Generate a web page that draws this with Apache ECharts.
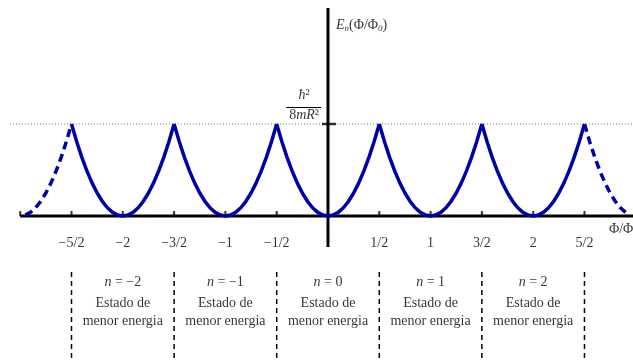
<!DOCTYPE html>
<html>
<head>
<meta charset="utf-8">
<script src="https://cdn.jsdelivr.net/npm/echarts@6/dist/echarts.min.js"></script>
<style>
  html, body { margin: 0; padding: 0; background: #fff; }
  #chart { width: 633px; height: 360px; }
</style>
</head>
<body>
<div id="chart"></div>
<script>
// Energy of one branch E_n around its own centre n (units of hbar^2 / 2mR^2 scaled so peak = 1/4)
const archOffsets = [-0.5, -0.45, -0.4, -0.35, -0.3, -0.25, -0.2, -0.15, -0.1, -0.05, 0,
                      0.05, 0.1, 0.15, 0.2, 0.25, 0.3, 0.35, 0.4, 0.45, 0.5];
const archEnergy  = [0.25, 0.2025, 0.16, 0.1225, 0.09, 0.0625, 0.04, 0.0225, 0.01, 0.0025, 0,
                     0.0025, 0.01, 0.0225, 0.04, 0.0625, 0.09, 0.1225, 0.16, 0.2025, 0.25];

// Branches drawn solid (ground state within each flux window)
const stateNumbers = [-2, -1, 0, 1, 2];
const stateLabels  = ['−2', '−1', '0', '1', '2'];
// Partial branches drawn dashed at both ends
const leftPartial  = { n: -3, from: 0.05, to: 0.5 };
const rightPartial = { n: 3, from: -0.5, to: -0.1 };

const peakEnergy = 0.25;
const axisStart = -3;

const tickValues      = [-3, -2.5, -2, -1.5, -1, -0.5, 0.5, 1, 1.5, 2, 2.5];
const tickLabelValues = [-2.5, -2, -1.5, -1, -0.5, 0.5, 1, 1.5, 2, 2.5];
const tickLabels      = ['−5/2', '−2', '−3/2', '−1', '−1/2', '1/2', '1', '3/2', '2', '5/2'];
const boundaryValues  = [-2.5, -1.5, -0.5, 0.5, 1.5, 2.5];

// Plot window (data units)
const X_MIN = -3.197, X_MAX = 2.973;
const Y_MIN = -0.3913, Y_MAX = 0.587;

// Vertical layout rows, in data units below the flux axis
const ROW_TICK = -0.0734;
const ROW_N = -0.1793;
const ROW_EST = -0.2364;
const ROW_MENOR = -0.2853;
const SEP_TOP = -0.1522;
const YAXIS_BOTTOM = -0.0842, YAXIS_TOP = 0.5652;

const FONT = 'Liberation Serif';
const TEXT = '#000';
const BLUE = '#0000a8';

function branch(n, from, to) {
  const pts = [];
  archOffsets.forEach((o, i) => {
    if (o >= from - 1e-9 && o <= to + 1e-9) pts.push([n + o, archEnergy[i]]);
  });
  return pts;
}

function textSeries(data, label) {
  return {
    type: 'scatter', symbolSize: 0, silent: true, z: 5,
    data: data,
    label: Object.assign({
      show: true, position: 'inside', color: TEXT,
      fontFamily: FONT, fontSize: 14, textBorderWidth: 0
    }, label)
  };
}

const italic = { fontStyle: 'italic', fontFamily: FONT, fontSize: 14, color: TEXT };

const series = [];

// dotted reference level at the peak energy
series.push({
  type: 'line', symbol: 'none', silent: true, z: 1,
  data: [[-3.1, peakEnergy], [X_MAX, peakEnergy]],
  lineStyle: { color: '#777', width: 1, type: [1, 2] }
});

// flux axis
series.push({
  type: 'line', symbol: 'none', silent: true, z: 2,
  data: [[axisStart, 0], [X_MAX, 0]],
  lineStyle: { color: '#000', width: 3 }
});
// energy axis
series.push({
  type: 'line', symbol: 'none', silent: true, z: 2,
  data: [[0, YAXIS_BOTTOM], [0, YAXIS_TOP]],
  lineStyle: { color: '#000', width: 3 }
});
// flux ticks
series.push({
  type: 'scatter', silent: true, z: 2,
  symbol: 'rect', symbolSize: [2, 5], symbolOffset: [0, -2.5],
  itemStyle: { color: '#000' },
  data: tickValues.map(v => [v, 0])
});
// energy tick at the peak level
series.push({
  type: 'scatter', silent: true, z: 2,
  symbol: 'rect', symbolSize: [14, 2.5], symbolOffset: [1, 0],
  itemStyle: { color: '#000' },
  data: [[0, peakEnergy]]
});

// solid branches
stateNumbers.forEach(n => {
  series.push({
    type: 'line', symbol: 'none', silent: true, z: 3,
    data: branch(n, -0.5, 0.5),
    lineStyle: { color: BLUE, width: 3.5 }
  });
});
// dashed partial branches
[leftPartial, rightPartial].forEach(p => {
  series.push({
    type: 'line', symbol: 'none', silent: true, z: 3,
    data: branch(p.n, p.from, p.to),
    lineStyle: { color: BLUE, width: 3.5, type: [8, 5] }
  });
});

// window boundaries
boundaryValues.forEach(v => {
  series.push({
    type: 'line', symbol: 'none', silent: true, z: 2,
    data: [[v, SEP_TOP], [v, Y_MIN]],
    lineStyle: { color: '#000', width: 1.5, type: [5, 4] }
  });
});

// flux tick labels
series.push(textSeries(
  tickLabelValues.map((v, i) => ({ value: [v, ROW_TICK], name: tickLabels[i] })),
  { formatter: p => p.name }
));

// state labels
series.push(textSeries(
  stateNumbers.map((n, i) => ({ value: [n, ROW_N], name: stateLabels[i] })),
  { formatter: p => '{i|n} = ' + p.name, rich: { i: italic } }
));
series.push(textSeries(
  stateNumbers.map(n => [n, ROW_EST]),
  { formatter: () => 'Estado de' }
));
series.push(textSeries(
  stateNumbers.map(n => [n, ROW_MENOR]),
  { formatter: () => 'menor energia' }
));

// energy axis title
series.push(textSeries(
  [[0.078, 0.519]],
  {
    align: 'left', position: 'right', distance: 0,
    formatter: () => '{i|E}{s|n}(Φ/Φ{s|0})',
    rich: {
      i: italic,
      s: { fontStyle: 'italic', fontFamily: FONT, fontSize: 9, color: TEXT, padding: [8, 0, 0, 0] }
    }
  }
));
// flux axis title
series.push(textSeries(
  [[2.739, -0.0353]],
  { position: 'right', distance: 0, formatter: () => 'Φ/Φ{s|0}',
    rich: { s: { fontFamily: FONT, fontSize: 9, color: TEXT, padding: [8, 0, 0, 0] } } }
));
// peak energy value: hbar^2 / 8 m R^2
series.push(textSeries(
  [[-0.233, 0.3288]],
  { formatter: () => '{i|ħ}²', rich: { i: italic } }
));
series.push(textSeries(
  [[-0.233, 0.2745]],
  { formatter: () => '8{i|mR}²', rich: { i: italic } }
));
series.push({
  type: 'line', symbol: 'none', silent: true, z: 2,
  data: [[-0.409, 0.2948], [-0.068, 0.2948]],
  lineStyle: { color: '#000', width: 1 }
});

const chart = echarts.init(document.getElementById('chart'), null, { renderer: 'canvas' });
chart.setOption({
  animation: false,
  backgroundColor: '#fff',
  grid: { left: 0, right: 0, top: 0, bottom: 0, containLabel: false },
  xAxis: { type: 'value', min: X_MIN, max: X_MAX, show: false },
  yAxis: { type: 'value', min: Y_MIN, max: Y_MAX, show: false },
  series: series
});
</script>
</body>
</html>
